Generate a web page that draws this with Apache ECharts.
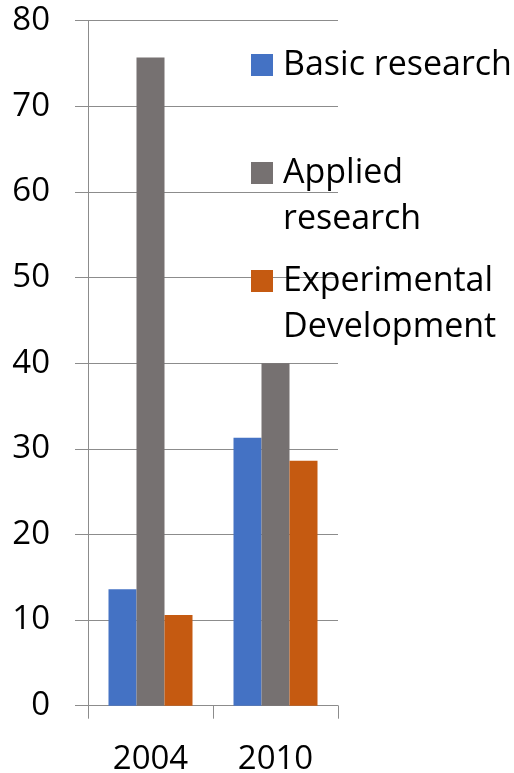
<!DOCTYPE html>
<html>
<head>
<meta charset="utf-8">
<script src="https://cdn.jsdelivr.net/npm/echarts@6/dist/echarts.min.js"></script>
<style>
  html, body { margin: 0; padding: 0; background: #fff; }
  #chart { width: 514px; height: 773px; }
</style>
</head>
<body>
<div id="chart"></div>
<script>
// 数据
const years = ['2004', '2010'];
const basicResearch = [13.6, 31.3];
const appliedResearch = [75.7, 40.0];
const experimentalDev = [10.6, 28.6];
const yTicks = { min: 0, max: 80, interval: 10 };

const FONT = 'Open Sans';
const GRID_COLOR = '#8c8c8c';

const chart = echarts.init(document.getElementById('chart'));

// 图例，每个系列单独放，方便定位；多行文字前加空行让图标对齐第一行
const legendBase = {
  orient: 'vertical',
  left: 251,
  padding: 0,
  itemWidth: 22,
  itemHeight: 22,
  icon: 'rect',
  textStyle: { fontFamily: FONT, fontSize: 34, color: '#000', lineHeight: 46, padding: [0, 0, 0, 5] }
};

const option = {
  animation: false,
  grid: { left: 88, right: 176, top: 20.7, bottom: 67.3, containLabel: false, outerBoundsMode: 'none' },
  legend: [
    Object.assign({}, legendBase, { top: 42, data: ['Basic research'] }),
    Object.assign({}, legendBase, {
      top: 104,
      data: ['Applied research'],
      formatter: () => '\nApplied\nresearch'
    }),
    Object.assign({}, legendBase, {
      top: 212,
      data: ['Experimental Development'],
      formatter: () => '\nExperimental\nDevelopment'
    })
  ],
  xAxis: {
    type: 'category',
    data: years,
    axisLine: { lineStyle: { color: GRID_COLOR, width: 1 } },
    axisTick: { show: true, length: 13, lineStyle: { color: GRID_COLOR } },
    axisLabel: { fontFamily: FONT, fontSize: 33, color: '#000', margin: 37 }
  },
  yAxis: {
    type: 'value',
    min: yTicks.min,
    max: yTicks.max,
    interval: yTicks.interval,
    axisLine: { show: true, lineStyle: { color: GRID_COLOR, width: 1 } },
    axisTick: { show: true, length: 13, lineStyle: { color: GRID_COLOR } },
    axisLabel: { fontFamily: FONT, fontSize: 33, color: '#000', margin: 38 },
    splitLine: { lineStyle: { color: GRID_COLOR, width: 1 } }
  },
  series: [
    { name: 'Basic research', type: 'bar', data: basicResearch, barWidth: 28, barGap: '0%', itemStyle: { color: '#4472C4' } },
    { name: 'Applied research', type: 'bar', data: appliedResearch, barWidth: 28, itemStyle: { color: '#767171' } },
    { name: 'Experimental Development', type: 'bar', data: experimentalDev, barWidth: 28, itemStyle: { color: '#C55A11' } }
  ]
};

chart.setOption(option);
</script>
</body>
</html>
